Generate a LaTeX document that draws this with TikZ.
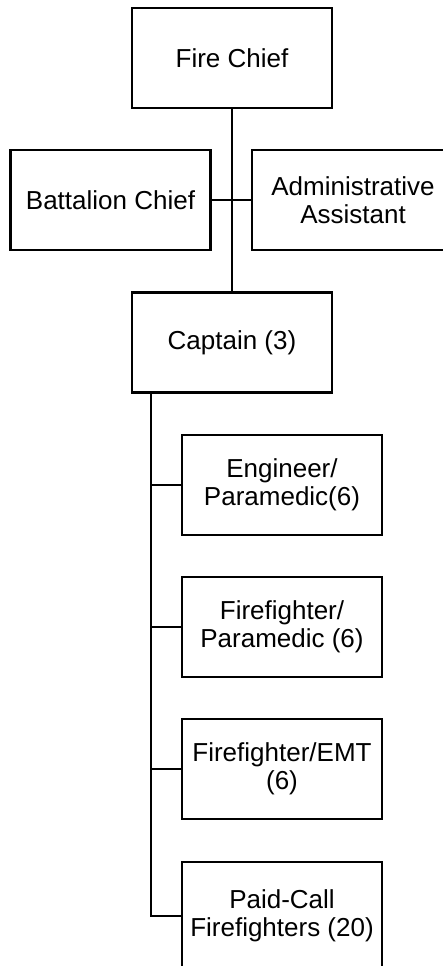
\documentclass[tikz,border=0pt]{standalone}
\usepackage{fontspec}
\setmainfont{Liberation Sans}
\begin{document}
\begin{tikzpicture}[x=1pt,y=-1pt,
	every node/.style={font=\fontsize{26}{28.5}\selectfont},
	post/.style={draw, line width=2.4pt, minimum width=200pt, minimum height=100pt, inner sep=0pt, align=center},
	link/.style={line width=2.4pt}]
	\clip (0,0) rectangle (443,966);
	\node[post] (chief) at (232,58) {Fire Chief};
	\node[post] (batt) at (110.5,200) {Battalion Chief};
	\node[post, minimum width=202pt] (admin) at (353,200) {Administrative\\Assistant};
	\node[post] (capt) at (232,342.5) {Captain (3)};
	\node[post] (eng) at (282,485) {Engineer/\\Paramedic(6)};
	\node[post] (ffpara) at (282,627) {Firefighter/\\Paramedic (6)};
	\node[post] (ffemt) at (282,769) {Firefighter/EMT\\(6)};
	\node[post, minimum height=108pt] (paid) at (282,916) {Paid-Call\\Firefighters (20)};
	% chief line
	\draw[link] (chief.south) -- (capt.north);
	\draw[link] (batt.east) -- (admin.west);
	% crew line
	\coordinate (spine) at ([xshift=20pt]capt.south west);
	\draw[link] (spine) |- (paid.west);
	\draw[link] (spine) |- (eng.west);
	\draw[link] (spine) |- (ffpara.west);
	\draw[link] (spine) |- (ffemt.west);
\end{tikzpicture}
\end{document}
